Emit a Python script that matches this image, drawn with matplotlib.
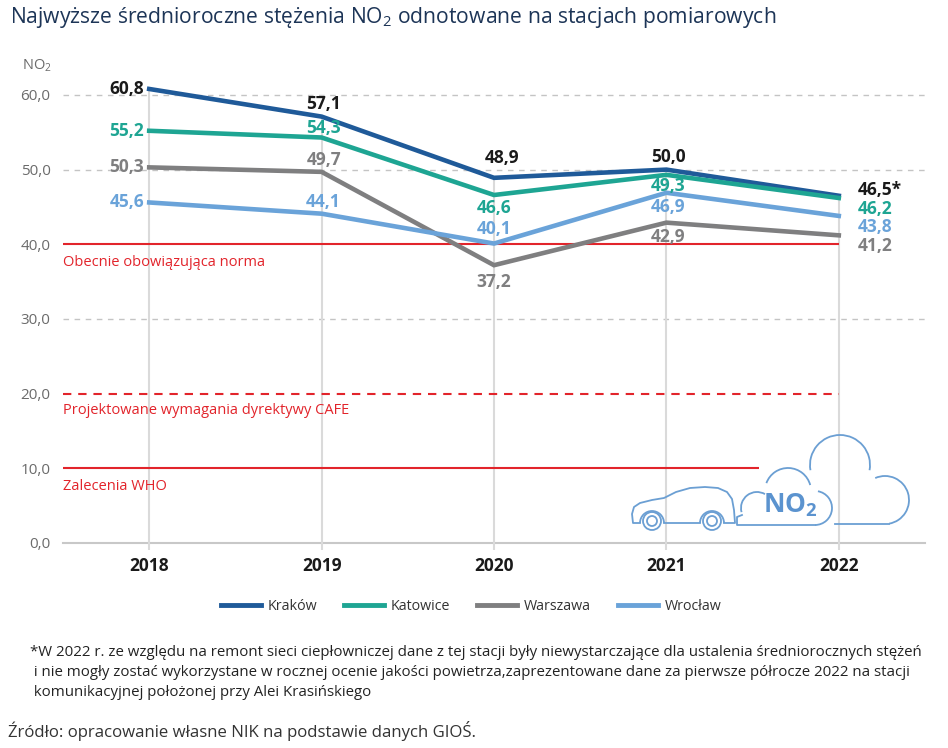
import matplotlib
matplotlib.use("Agg")
import matplotlib.pyplot as plt
from matplotlib.patches import Arc, Circle

plt.rcParams['font.family'] = ['Open Sans', 'DejaVu Sans']
plt.rcParams['mathtext.fontset'] = 'custom'
plt.rcParams['mathtext.rm'] = 'Open Sans'
plt.rcParams['mathtext.bf'] = 'Open Sans:bold'

# data
years = [2018, 2019, 2020, 2021, 2022]
krakow = [60.8, 57.1, 48.9, 50.0, 46.5]
katowice = [55.2, 54.3, 46.6, 49.3, 46.2]
warszawa = [50.3, 49.7, 37.2, 42.9, 41.2]
wroclaw = [45.6, 44.1, 40.1, 46.9, 43.8]
cities = ["Kraków", "Katowice", "Warszawa", "Wrocław"]
yticks = [0, 10, 20, 30, 40, 50, 60]
norm_now = 40.0
norm_cafe = 20.0
norm_who = 10.0

line_colors = ["#1f5a99", "#1ea593", "#7f7f80", "#6aa3d9"]
label_colors = ["#1a1a1a", "#1ea593", "#7f7f80", "#6aa3d9"]
red = "#e2242b"

# label placement per point: (dx px, dy px, ha)
L, C, R = "right", "center", "left"
offsets = [
    [(-5, 0, L), (2, 13, C), (8, 20, C), (2, 13, C), (19, 6, R)],
    [(-5, 0, L), (2, 10, C), (0, -13, C), (2, -11, C), (19, -11, R)],
    [(-5, 0, L), (2, 12, C), (0, -17, C), (2, -14, C), (19, -11, R)],
    [(-5, 0, L), (2, 12, C), (0, 15, C), (2, -14, C), (19, -11, R)],
]

fig = plt.figure(figsize=(9.48, 7.48), dpi=100)
ax = fig.add_axes([63 / 948, (748 - 543) / 748, 862 / 948, 463 / 748])
ax.set_xlim(2017.5, 2022.5)
ax.set_ylim(0, 62)
for s in ax.spines.values():
    s.set_visible(False)

series = [krakow, katowice, warszawa, wroclaw]

# gridlines
for t in yticks:
    if t in (norm_now, norm_cafe, norm_who):
        continue
    if t == 0:
        ax.axhline(0, color="#c8c8c8", lw=1.5, zorder=1, clip_on=False)
    else:
        ax.axhline(t, color="#c4c4c4", lw=1, ls=(0, (4, 4)), zorder=1)
for i, yr in enumerate(years):
    top = max(s[i] for s in series)
    ax.vlines(yr, -1, top, color="#dadada", lw=1.5, zorder=1, clip_on=False)

# norm lines
ax.hlines(norm_now, 2017.5, 2022, color=red, lw=1.5, zorder=2)
ax.hlines(norm_cafe, 2017.5, 2022, color=red, lw=1.5, linestyles=(0, (4, 3.3)), zorder=2)
ax.hlines(norm_who, 2017.5, 2021.54, color=red, lw=1.5, zorder=2)
ax.text(2017.5, 37.6, "Obecnie obowiązująca norma", color=red, fontsize=10.5, va="center")
ax.text(2017.5, 17.7, "Projektowane wymagania dyrektywy CAFE", color=red, fontsize=10.5, va="center")
ax.text(2017.5, 7.5, "Zalecenia WHO", color=red, fontsize=10.5, va="center")

# series
for k, vals in enumerate(series):
    ax.plot(years, vals, color=line_colors[k], lw=3.3, label=cities[k],
            solid_joinstyle="miter", zorder=3 + k * 0.1)
    for i, v in enumerate(vals):
        dx, dy, ha = offsets[k][i]
        txt = f"{v:.1f}".replace(".", ",")
        if k == 0 and i == len(vals) - 1:
            txt += "*"
        ax.annotate(txt, (years[i], v), xytext=(dx, dy), textcoords="offset pixels",
                    ha=ha, va="center", fontsize=12.5, fontweight="bold",
                    color=label_colors[k], zorder=5)

ax.set_xticks(years)
ax.set_xticklabels([str(y) for y in years], fontsize=12.5, fontweight="bold", color="#1a1a1a")
ax.set_yticks(yticks)
ax.set_yticklabels([f"{t:.1f}".replace(".", ",") for t in yticks], fontsize=11, color="#6b6b6b")
ax.tick_params(axis="x", length=0, pad=10)
ax.tick_params(axis="y", length=0, pad=9)
ax.set_facecolor("none")

leg = ax.legend(loc="center", bbox_to_anchor=(471 / 948, 1 - 607 / 748),
                bbox_transform=fig.transFigure, ncol=4, frameon=False,
                fontsize=10.3, handlelength=2.8, handletextpad=0.45, columnspacing=1.9)
for t in leg.get_texts():
    t.set_color("#333333")
for h in leg.get_lines():
    h.set_linewidth(3.5)

# texts around the chart
fig.text(10 / 948, 1 - 18 / 748, "Najwyższe średnioroczne stężenia NO$_2$ odnotowane na stacjach pomiarowych",
         fontsize=15.2, color="#1d3557", va="center")
fig.text(22 / 948, 1 - 66 / 748, "NO$_2$", fontsize=10.5, color="#6b6b6b", va="center")
foot = ["*W 2022 r. ze względu na remont sieci ciepłowniczej dane z tej stacji były niewystarczające dla ustalenia średniorocznych stężeń",
        " i nie mogły zostać wykorzystane w rocznej ocenie jakości powietrza,zaprezentowane dane za pierwsze półrocze 2022 na stacji",
        " komunikacyjnej położonej przy Alei Krasińskiego"]
for j, line in enumerate(foot):
    fig.text(30 / 948, 1 - (652 + 20.5 * j) / 748, line, fontsize=10.8, color="#222222", va="center")
fig.text(8 / 948, 1 - 731 / 748, "Źródło: opracowanie własne NIK na podstawie danych GIOŚ.",
         fontsize=12.1, color="#333333", va="center")

# car and clouds illustration, drawn in figure pixel space
ov = fig.add_axes([0, 0, 1, 1])
ov.set_xlim(0, 948)
ov.set_ylim(0, 748)
ov.axis("off")
ov.set_facecolor("none")
ic = "#6b9fd3"
lw = 1.3
Y = lambda y: 748 - y

car_x = [640, 633, 632, 634, 640, 652, 664, 676, 690, 705, 718, 727, 732, 734, 735, 724]
car_y = [523, 523, 514, 507, 503, 500, 498, 492, 488, 487, 488, 492, 499, 510, 523, 523]
ov.plot(car_x, [Y(v) for v in car_y], color=ic, lw=lw)
ov.plot([700, 664], [Y(523), Y(523)], color=ic, lw=lw)
for cx in (652, 712):
    ov.add_patch(Arc((cx, Y(523)), 24, 24, theta1=0, theta2=180, color=ic, lw=lw))
    ov.add_patch(Circle((cx, Y(521)), 9, fill=False, ec=ic, lw=lw))
    ov.add_patch(Circle((cx, Y(521)), 5, fill=False, ec=ic, lw=lw))

# small cloud
ov.plot([815, 737, 737, 742], [Y(525), Y(525), Y(517), Y(515)], color=ic, lw=lw)
ov.add_patch(Arc((757, Y(508)), 32, 32, theta1=60, theta2=195, color=ic, lw=lw))
ov.add_patch(Arc((788, Y(491)), 46, 46, theta1=15, theta2=160, color=ic, lw=lw))
ov.add_patch(Arc((815, Y(508)), 34, 34, theta1=-90, theta2=80, color=ic, lw=lw))
ov.text(790, Y(505), r"NO$_\mathbf{2}$", fontsize=19, fontweight="bold", color="#5b93cf",
        ha="center", va="center")

# big cloud
ov.add_patch(Arc((840, Y(465)), 60, 60, theta1=-10, theta2=190, color=ic, lw=lw))
ov.add_patch(Arc((885, Y(500)), 48, 48, theta1=-80, theta2=114, color=ic, lw=lw))
ov.plot([889, 835], [Y(524), Y(524)], color=ic, lw=lw)

fig.savefig("out.png", dpi=100)
